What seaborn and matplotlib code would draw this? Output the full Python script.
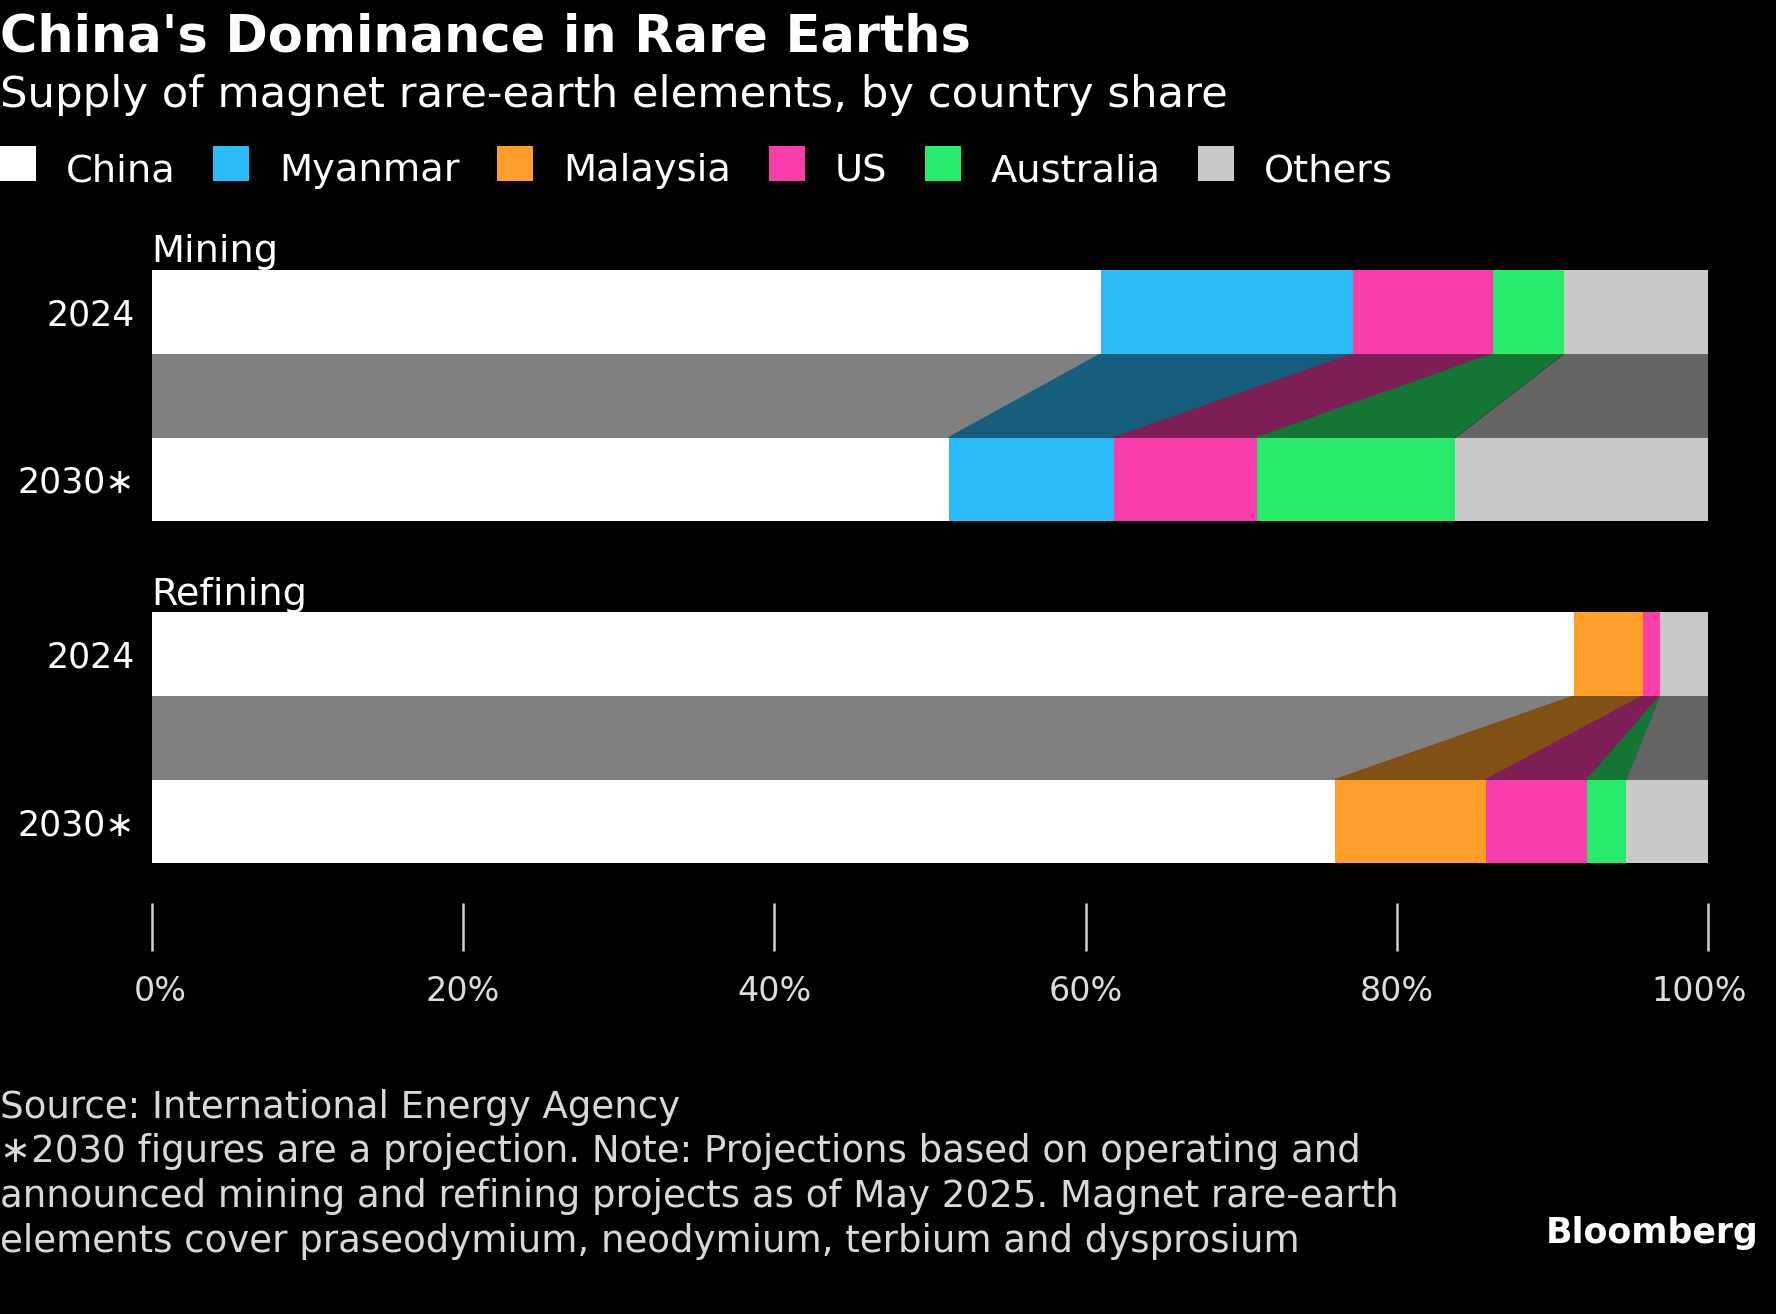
import numpy as np
import pandas as pd
import matplotlib
matplotlib.use("Agg")
import matplotlib.pyplot as plt
import matplotlib.transforms as mtransforms
from matplotlib.patches import Rectangle, Polygon
from matplotlib.colors import to_rgb
import seaborn as sns

# ---------------- data ----------------
countries = ["China", "Myanmar", "Malaysia", "US", "Australia", "Others"]
colors = ["#ffffff", "#2abbf8", "#ff9f29", "#f93eab", "#28ea6a", "#c9c9c9"]
years = ["2024", "2030\u2217"]
sections = ["Mining", "Refining"]
mining_2024 = [61.0, 16.2, 0.0, 9.0, 4.5, 9.3]
mining_2030 = [51.2, 10.6, 0.0, 9.2, 12.7, 16.3]
refining_2024 = [91.4, 0.0, 4.4, 1.1, 0.0, 3.1]
refining_2030 = [76.0, 0.0, 9.7, 6.5, 2.5, 5.3]
x_ticks = [0, 20, 40, 60, 80, 100]
x_tick_labels = ["0%", "20%", "40%", "60%", "80%", "100%"]

title = "China's Dominance in Rare Earths"
subtitle = "Supply of magnet rare-earth elements, by country share"
footnote_lines = [
    "Source: International Energy Agency",
    "\u22172030 figures are a projection. Note: Projections based on operating and",
    "announced mining and refining projects as of May 2025. Magnet rare-earth",
    "elements cover praseodymium, neodymium, terbium and dysprosium",
]

# ---------------- style ----------------
sns.set_theme(style="white")
plt.rcParams["font.family"] = ["DejaVu Sans"]
plt.rcParams["axes.facecolor"] = "black"
plt.rcParams["figure.facecolor"] = "black"

W, H = 1776, 1314
fig = plt.figure(figsize=(W / 100, H / 100), dpi=100, facecolor="black")


def fx(px):
    return px / W


def fy(px_from_top):
    return 1 - px_from_top / H


ax_left = fx(151.5)
ax_width = fx(1556.8)
ax_h = 251.6 / H
ax_m = fig.add_axes([ax_left, fy(521.4), ax_width, ax_h])
ax_r = fig.add_axes([ax_left, fy(863.5), ax_width, ax_h])


def draw_section(ax, v24, v30, name):
    c24 = np.cumsum(v24)
    c30 = np.cumsum(v30)
    p24 = np.concatenate([[0.0], c24[:-1]])
    p30 = np.concatenate([[0.0], c30[:-1]])
    # stacked bars: draw cumulative totals from the outermost segment inward
    for i in range(len(countries) - 1, -1, -1):
        df = pd.DataFrame({"year": years, "share": [c24[i], c30[i]]})
        sns.barplot(data=df, x="share", y="year", orient="h", color=colors[i],
                    saturation=1, width=0.5, errorbar=None, linewidth=0, ax=ax)
    # connector band between the two years
    for i in range(len(countries)):
        if v24[i] == 0 and v30[i] == 0:
            continue
        dark = tuple(0.5 * np.array(to_rgb(colors[i])))
        poly = Polygon([(p24[i], 0.25), (c24[i], 0.25), (c30[i], 0.75), (p30[i], 0.75)],
                       closed=True, facecolor=dark, edgecolor=dark, linewidth=0.8,
                       zorder=0.5)
        ax.add_patch(poly)
    ax.set_xlim(0, 100)
    ax.set_ylim(1.25, -0.25)
    ax.set_facecolor("black")
    for s in ["left", "right", "top"]:
        ax.spines[s].set_visible(False)
    ax.set_xlabel("")
    ax.set_ylabel("")
    ax.tick_params(axis="y", length=0, pad=12, labelsize=25, labelcolor="white")
    ax.set_title(name, loc="left", pad=5.2, fontsize=27.5, color="white")


draw_section(ax_m, mining_2024, mining_2030, sections[0])
draw_section(ax_r, refining_2024, refining_2030, sections[1])

# x axis only on the lower panel
ax_m.spines["bottom"].set_visible(False)
ax_m.tick_params(axis="x", bottom=False, labelbottom=False)

ax_r.spines["bottom"].set_position(("outward", 28.4))
ax_r.spines["bottom"].set_color("none")
ax_r.set_xticks(x_ticks, x_tick_labels)
ax_r.tick_params(axis="x", bottom=True, length=34.6, width=1.8, color="#d0d0d0",
                 direction="out", pad=17.5, labelsize=24, labelcolor="#dcdcdc")
labels = ax_r.get_xticklabels()
labels[0].set_transform(labels[0].get_transform() +
                        mtransforms.ScaledTranslation(8.5 / 100, 0, fig.dpi_scale_trans))
labels[-1].set_transform(labels[-1].get_transform() +
                         mtransforms.ScaledTranslation(-9 / 100, 0, fig.dpi_scale_trans))

# ---------------- titles ----------------
fig.text(0, fy(51.7), title, fontsize=36.7, fontweight="bold", color="white",
         ha="left", va="baseline")
fig.text(0, fy(107.3), subtitle, fontsize=31.2, color="white", ha="left", va="baseline")

# ---------------- legend ----------------
renderer = fig.canvas.get_renderer()
x = 0.0
base = 181.0
for name, col in zip(countries, colors):
    fig.add_artist(Rectangle((fx(x), fy(base)), fx(36), 35.4 / H,
                             transform=fig.transFigure, facecolor=col,
                             edgecolor="none"))
    t = fig.text(fx(x + 36 + 30), fy(base), name, fontsize=27.6, color="white",
                 ha="left", va="baseline")
    ext = t.get_window_extent(renderer)
    x = ext.x1 + 37.5

# ---------------- footnote ----------------
for line, b in zip(footnote_lines, [1118, 1162.5, 1207, 1251.5]):
    fig.text(0, fy(b), line, fontsize=26.7, color="#d8d8d8", ha="left", va="baseline")

fig.text(fx(1758), fy(1243.3), "Bloomberg", fontsize=25, fontweight="bold",
         color="white", ha="right", va="baseline")

fig.savefig("out.png", dpi=100, facecolor="black")
